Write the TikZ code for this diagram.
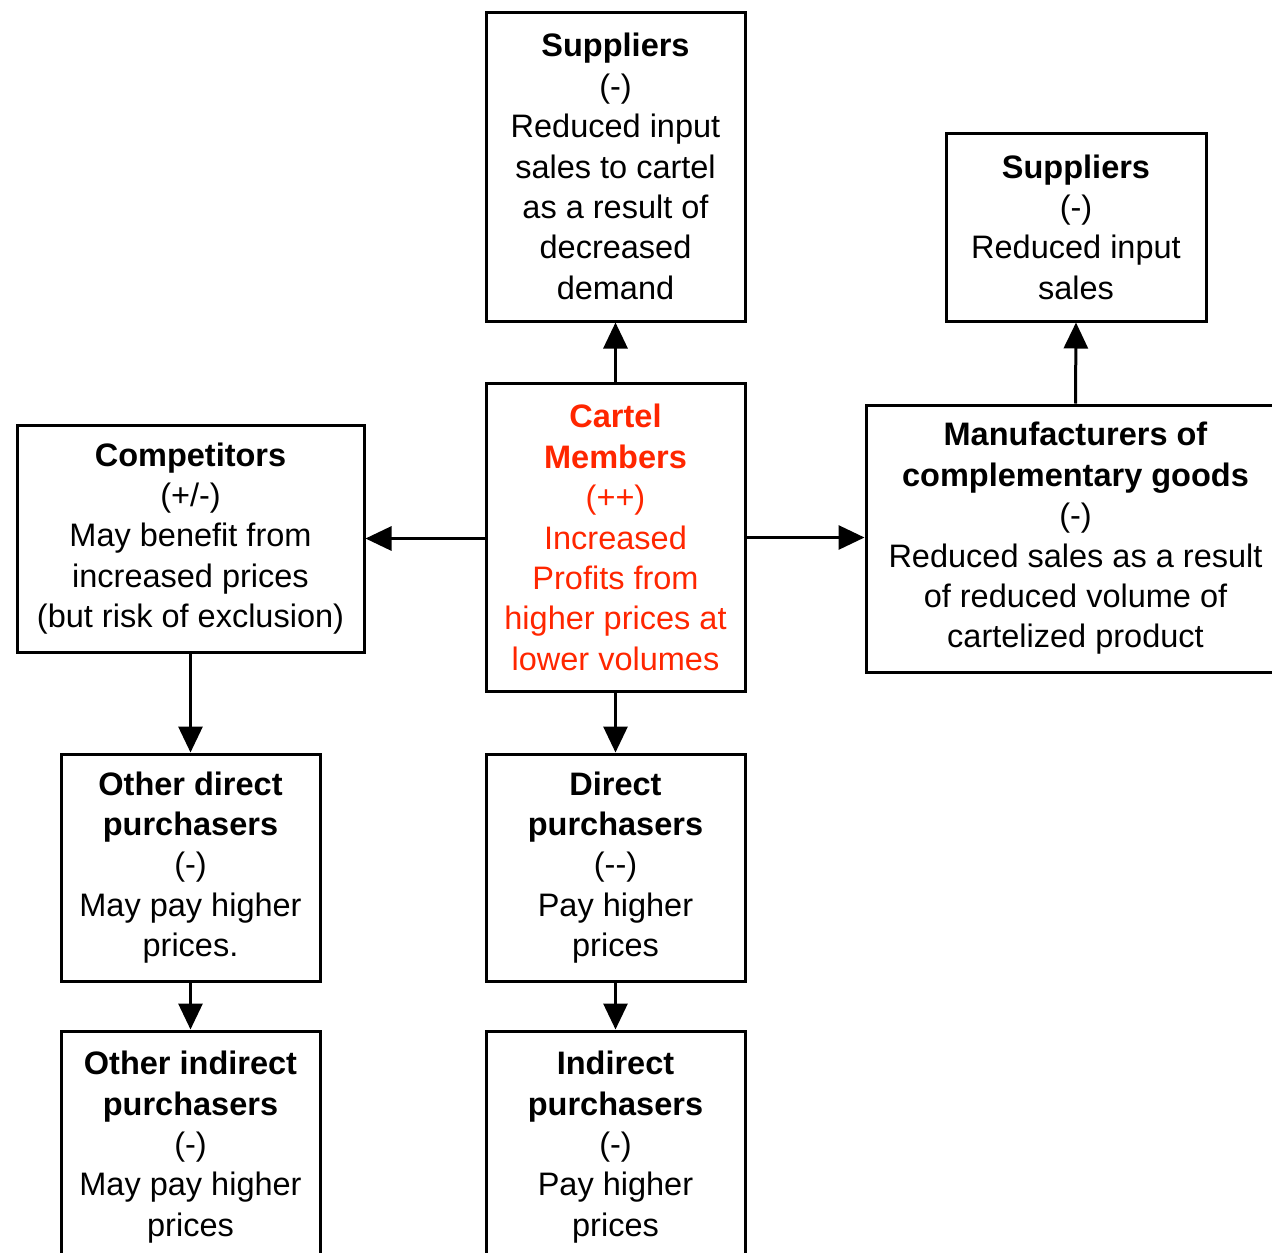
\documentclass[tikz,border=0pt]{standalone}
\usepackage{fontspec}
\setmainfont{Liberation Sans}
\usetikzlibrary{arrows.meta}
\definecolor{cartelred}{RGB}{255,38,0}
\tikzset{
  box/.style={draw=black, line width=3pt, align=center, inner sep=0pt,
    font=\fontsize{32.5}{40.4}\selectfont},
  arr/.style={line width=3pt, -{Triangle[length=26pt,width=24pt]}}
}
\begin{document}
\begin{tikzpicture}[x=1pt,y=-1pt]
\useasboundingbox (0,0) rectangle (1272,1253);
\node[box, minimum width=259pt, minimum height=309pt] (sup1) at (615.5,166.5)
  {\textbf{Suppliers}\\(-)\\Reduced input\\sales to cartel\\as a result of\\decreased\\demand};
\node[box, minimum width=260pt, minimum height=188pt] (sup2) at (1076,227)
  {\textbf{Suppliers}\\(-)\\Reduced input\\sales};
\node[box, minimum width=259pt, minimum height=308pt, text=cartelred] (cartel) at (615.5,537.5)
  {\textbf{Cartel}\\\textbf{Members}\\(++)\\Increased\\Profits from\\higher prices at\\lower volumes};
\node[box, minimum width=347pt, minimum height=227pt] (comp) at (190.5,538.5)
  {\textbf{Competitors}\\(+/-)\\May benefit from\\increased prices\\(but risk of exclusion)};
\node[box, minimum width=419pt, minimum height=267pt] (manu) at (1075.5,538.5)
  {\textbf{Manufacturers of}\\\textbf{complementary goods}\\(-)\\Reduced sales as a result\\of reduced volume of\\cartelized product};
\node[box, minimum width=259pt, minimum height=227pt] (odir) at (190.5,867.5)
  {\textbf{Other direct}\\\textbf{purchasers}\\(-)\\May pay higher\\prices.};
\node[box, minimum width=259pt, minimum height=227pt] (dir) at (615.5,867.5)
  {\textbf{Direct}\\\textbf{purchasers}\\(-{}-)\\Pay higher\\prices};
\node[box, minimum width=259pt, minimum height=232pt] (oind) at (190.5,1147)
  {\textbf{Other indirect}\\\textbf{purchasers}\\(-)\\May pay higher\\prices};
\node[box, minimum width=259pt, minimum height=232pt] (ind) at (615.5,1147)
  {\textbf{Indirect}\\\textbf{purchasers}\\(-)\\Pay higher\\prices};
\draw[arr] (cartel.north) -- (sup1.south);
\draw[arr] (cartel.west |- comp.east) -- (comp.east);
\draw[arr] (cartel.east) -- (cartel.east -| manu.west);
\draw[arr] (manu.north) -- (sup2.south);
\draw[arr] (comp.south) -- (odir.north);
\draw[arr] (cartel.south) -- (dir.north);
\draw[arr] (odir.south) -- (oind.north);
\draw[arr] (dir.south) -- (ind.north);
\end{tikzpicture}
\end{document}
